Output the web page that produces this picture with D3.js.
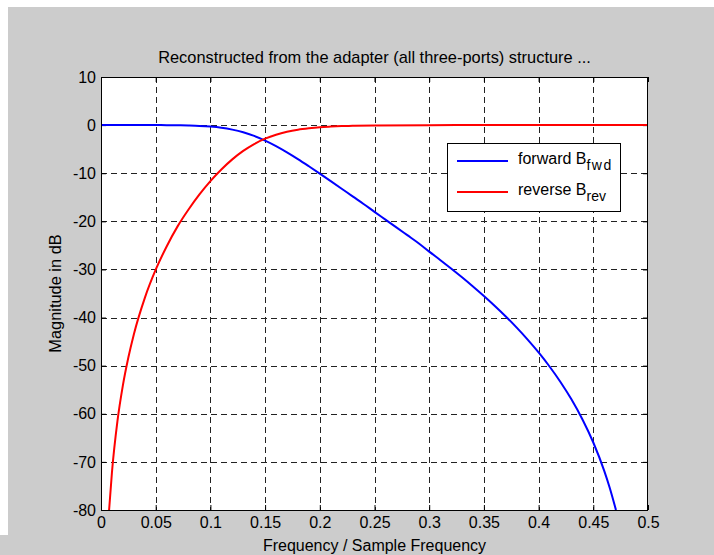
<!DOCTYPE html>
<html>
<head>
<meta charset="utf-8">
<script src="https://cdn.jsdelivr.net/npm/d3@7"></script>
<style>
  html, body { margin: 0; padding: 0; background: #fff; }
  svg { display: block; }
  text { font-family: "Liberation Sans", Arial, Helvetica, sans-serif; fill: #000; }
</style>
</head>
<body>
<svg id="chart" width="714" height="555"></svg>
<script>
// ---- data ----
const titleText = "Reconstructed from the adapter (all three-ports) structure ...";
const xLabelText = "Frequency / Sample Frequency";
const yLabelText = "Magnitude in dB";

const xTicks = [0, 0.05, 0.1, 0.15, 0.2, 0.25, 0.3, 0.35, 0.4, 0.45, 0.5];
const xTickLabels = ["0", "0.05", "0.1", "0.15", "0.2", "0.25", "0.3", "0.35", "0.4", "0.45", "0.5"];
const yTicks = [10, 0, -10, -20, -30, -40, -50, -60, -70, -80];
const yTickLabels = ["10", "0", "-10", "-20", "-30", "-40", "-50", "-60", "-70", "-80"];

// forward B_fwd
const fwdFreq = [0, 0.02, 0.04, 0.05, 0.06, 0.07, 0.08, 0.09, 0.10, 0.11, 0.12, 0.13, 0.14, 0.15, 0.16, 0.17, 0.18, 0.19, 0.20,
  0.21, 0.22, 0.23, 0.24, 0.25, 0.26, 0.27, 0.28, 0.29, 0.30, 0.31, 0.32, 0.33, 0.34, 0.35, 0.36, 0.37, 0.38, 0.39, 0.40,
  0.41, 0.42, 0.43, 0.44, 0.45, 0.46, 0.465, 0.4707];
const fwdDb = [0, 0, 0, 0, -0.01, -0.03, -0.08, -0.16, -0.31, -0.55, -0.94, -1.49, -2.25, -3.21, -4.35, -5.65, -7.06, -8.55, -10.08,
  -11.64, -13.22, -14.82, -16.39, -18.03, -19.64, -21.25, -22.87, -24.49, -26.29, -28.03, -29.81, -31.64, -33.55, -35.53, -37.60, -39.78, -42.10, -44.58, -47.25,
  -50.17, -53.39, -57.00, -61.13, -65.97, -71.87, -75.38, -80];

// reverse B_rev
const revFreq = [0.0074, 0.01, 0.015, 0.02, 0.025, 0.03, 0.04, 0.05, 0.06, 0.07, 0.08, 0.09, 0.10, 0.11, 0.12, 0.13, 0.14, 0.15,
  0.16, 0.17, 0.18, 0.19, 0.20, 0.21, 0.22, 0.23, 0.25, 0.30, 0.35, 0.40, 0.45, 0.50];
const revDb = [-80, -72.2, -61.6, -54.1, -48.3, -43.5, -35.95, -30.06, -25.22, -21.05, -17.55, -14.41, -11.64, -9.22, -7.12, -5.36, -3.93, -2.82,
  -1.99, -1.38, -0.95, -0.66, -0.44, -0.31, -0.21, -0.15, -0.07, -0.01, 0, 0, 0, 0];

const legendLabels = [{main: "forward B", sub: "fwd"}, {main: "reverse B", sub: "rev"}];
const seriesColors = ["#0000ff", "#ff0000"];

// ---- layout ----
const svg = d3.select("#chart");
const W = 714, H = 555;
const plot = {left: 101, right: 648, top: 77, bottom: 510};
const FS = 16;

svg.append("rect").attr("x", 8).attr("y", 7).attr("width", W - 8).attr("height", H - 7).attr("fill", "#cccccc");
svg.append("rect").attr("x", 0).attr("y", 535).attr("width", W).attr("height", H - 535).attr("fill", "#cccccc");

const x = d3.scaleLinear().domain([0, 0.5]).range([plot.left, plot.right]);
const y = d3.scaleLinear().domain([-80, 10]).range([plot.bottom, plot.top]);

svg.append("rect")
  .attr("x", plot.left).attr("y", plot.top)
  .attr("width", plot.right - plot.left).attr("height", plot.bottom - plot.top)
  .attr("fill", "#ffffff");

// grid
const grid = svg.append("g").attr("stroke", "#222").attr("stroke-width", 1).attr("stroke-dasharray", "6,4");
grid.selectAll("line.v").data(xTicks.slice(1, -1)).join("line")
  .attr("x1", d => Math.round(x(d)) + 0.5).attr("x2", d => Math.round(x(d)) + 0.5)
  .attr("y1", plot.top).attr("y2", plot.bottom);
grid.selectAll("line.h").data(yTicks.slice(1, -1)).join("line")
  .attr("y1", d => Math.round(y(d)) + 0.5).attr("y2", d => Math.round(y(d)) + 0.5)
  .attr("x1", plot.left).attr("x2", plot.right);

// axes with inward ticks
const xAxis = d3.axisBottom(x).tickValues(xTicks).tickFormat((d, i) => xTickLabels[i]).tickSizeInner(-5).tickSizeOuter(0).tickPadding(7);
const gx = svg.append("g").attr("transform", `translate(0,${plot.bottom})`).call(xAxis);
const xAxisTop = d3.axisTop(x).tickValues(xTicks).tickFormat("").tickSizeInner(-5).tickSizeOuter(0);
const gxt = svg.append("g").attr("transform", `translate(0,${plot.top})`).call(xAxisTop);
const yAxis = d3.axisLeft(y).tickValues(yTicks).tickFormat((d, i) => yTickLabels[i]).tickSizeInner(-5).tickSizeOuter(0).tickPadding(5);
const gy = svg.append("g").attr("transform", `translate(${plot.left},0)`).call(yAxis);
const yAxisRight = d3.axisRight(y).tickValues(yTicks).tickFormat("").tickSizeInner(-5).tickSizeOuter(0);
const gyr = svg.append("g").attr("transform", `translate(${plot.right},0)`).call(yAxisRight);
[gx, gxt, gy, gyr].forEach(g => {
  g.select(".domain").remove();
  g.selectAll(".tick line").attr("stroke", "#000");
  g.selectAll("text").attr("font-family", "Liberation Sans, Arial, sans-serif").attr("font-size", FS).attr("fill", "#000");
});

// clip
svg.append("clipPath").attr("id", "clip").append("rect")
  .attr("x", plot.left).attr("y", plot.top - 1)
  .attr("width", plot.right - plot.left).attr("height", plot.bottom - plot.top + 2);

const line = d3.line().x(d => x(d[0])).y(d => y(d[1])).curve(d3.curveMonotoneX);
const fwdData = fwdFreq.map((f, i) => [f, fwdDb[i]]);
const revData = revFreq.map((f, i) => [f, revDb[i]]);

const lines = svg.append("g").attr("clip-path", "url(#clip)");
lines.append("path").datum(fwdData).attr("d", line).attr("fill", "none").attr("stroke", seriesColors[0]).attr("stroke-width", 2);
lines.append("path").datum(revData).attr("d", line).attr("fill", "none").attr("stroke", seriesColors[1]).attr("stroke-width", 2);

// frame
svg.append("rect")
  .attr("x", plot.left + 0.5).attr("y", plot.top + 0.5)
  .attr("width", plot.right - plot.left - 1).attr("height", plot.bottom - plot.top)
  .attr("fill", "none").attr("stroke", "#000").attr("stroke-width", 1);

// title and labels
svg.append("text").attr("x", (plot.left + plot.right) / 2).attr("y", 63)
  .attr("text-anchor", "middle").attr("font-size", 16.4).text(titleText);
svg.append("text").attr("x", (plot.left + plot.right) / 2).attr("y", 551)
  .attr("text-anchor", "middle").attr("font-size", FS).text(xLabelText);
svg.append("text").attr("transform", `translate(61,${(plot.top + plot.bottom) / 2}) rotate(-90)`)
  .attr("text-anchor", "middle").attr("font-size", 16.4).text(yLabelText);

// legend
const lg = svg.append("g").attr("transform", "translate(447,143)");
lg.append("rect").attr("x", 0.5).attr("y", 0.5).attr("width", 173).attr("height", 68)
  .attr("fill", "#fff").attr("stroke", "#000").attr("stroke-width", 1);
legendLabels.forEach((L, i) => {
  const cy = 18 + i * 31;
  lg.append("line").attr("x1", 10).attr("x2", 61).attr("y1", cy).attr("y2", cy)
    .attr("stroke", seriesColors[i]).attr("stroke-width", 2);
  const t = lg.append("text").attr("x", 71).attr("y", cy + 3).attr("font-size", FS);
  t.append("tspan").text(L.main);
  t.append("tspan").attr("dy", 6).attr("font-size", 14).attr("letter-spacing", i === 0 ? 1.5 : 0).text(L.sub);
});
</script>
</body>
</html>
